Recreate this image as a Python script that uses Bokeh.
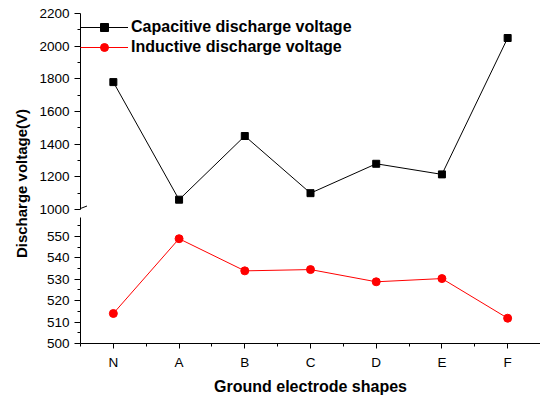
import math
from bokeh.plotting import figure
from bokeh.models import (ColumnDataSource, FixedTicker, Range1d, Legend, LegendItem,
                          Label, Arrow)
from bokeh.layouts import row, column
from bokeh.embed import file_html
from bokeh.resources import INLINE

# ---------------- data ----------------
categories = ["N", "A", "B", "C", "D", "E", "F"]
capacitive = [1780, 1060, 1450, 1100, 1280, 1215, 2050]
inductive = [514.0, 548.9, 533.9, 534.5, 528.8, 530.3, 511.8]
upper_ticks = [1000, 1200, 1400, 1600, 1800, 2000, 2200]
lower_ticks = [500, 510, 520, 530, 540, 550]
series_names = ["Capacitive discharge voltage", "Inductive discharge voltage"]
x_title = "Ground electrode shapes"
y_title = "Discharge voltage(V)"

FONT = "Liberation Sans"
TICK_FS = "13.5px"

xs = list(range(len(categories)))
src = ColumnDataSource(dict(x=xs, cap=capacitive, ind=inductive))

x_range = Range1d(-0.5, len(categories) - 0.5)

# geometry (px)
LAB_W = 34
LEFT = 46
PLOT_W = 506
TOP_H = 217
TOP_MB_T, TOP_MB_B = 13, 8
TOP_FRAME_H = TOP_H - TOP_MB_T - TOP_MB_B
LOW_H = 180
LOW_MB_T, LOW_MB_B = 0, 53
LOW_FRAME_H = LOW_H - LOW_MB_T - LOW_MB_B
LOW_PPU = 2.16
low_top = lower_ticks[0] + LOW_FRAME_H / LOW_PPU


def style_axis(ax, tick_out=6):
    ax.axis_line_color = "black"
    ax.axis_line_width = 1
    ax.major_tick_line_color = "black"
    ax.minor_tick_line_color = "black"
    ax.major_tick_in = 0
    ax.major_tick_out = tick_out
    ax.minor_tick_in = 0
    ax.minor_tick_out = 3
    ax.major_label_text_font = FONT
    ax.major_label_text_font_size = TICK_FS
    ax.major_label_text_color = "black"
    ax.major_label_standoff = 5


def midpoints(t):
    return [(a + b) / 2 for a, b in zip(t[:-1], t[1:])]


# ---------------- top panel ----------------
top = figure(width=PLOT_W, height=TOP_H, x_range=x_range,
             y_range=Range1d(upper_ticks[0], upper_ticks[-1]),
             output_backend="svg", toolbar_location=None, x_axis_location=None,
             min_border_left=LEFT, min_border_right=0,
             min_border_top=TOP_MB_T, min_border_bottom=TOP_MB_B)
top.outline_line_color = None
top.grid.visible = False
top.yaxis.ticker = FixedTicker(ticks=upper_ticks, minor_ticks=midpoints(upper_ticks))
style_axis(top.yaxis[0])

l1 = top.line("x", "cap", source=src, line_color="black", line_width=1)
s1 = top.scatter("x", "cap", source=src, marker="square", size=7,
                 fill_color="black", line_color="black")
# legend proxies for the lower series (values lie below this panel's range -> clipped)
l2p = top.line("x", "ind", source=src, line_color="#ff0000", line_width=1)
s2p = top.scatter("x", "ind", source=src, marker="circle", size=8,
                  fill_color="#ff0000", line_color="#ff0000")

LEG_PAD, ROW_H = 2, 20
legend = Legend(items=[LegendItem(label=series_names[0], renderers=[l1, s1]),
                       LegendItem(label=series_names[1], renderers=[l2p, s2p])],
                location=(0, TOP_FRAME_H - 2 * ROW_H - 2 * LEG_PAD),
                padding=LEG_PAD, margin=0, spacing=0, glyph_width=48,
                glyph_height=ROW_H, label_height=ROW_H, label_standoff=3,
                label_text_font=FONT, label_text_font_size="16px",
                label_text_font_style="bold", label_text_color="black",
                border_line_color=None, background_fill_alpha=0)
top.add_layout(legend)

# ---------------- bottom panel ----------------
low = figure(width=PLOT_W, height=LOW_H, x_range=x_range,
             y_range=Range1d(lower_ticks[0], low_top),
             output_backend="svg", toolbar_location=None,
             min_border_left=LEFT, min_border_right=0,
             min_border_top=LOW_MB_T, min_border_bottom=LOW_MB_B)
low.outline_line_color = None
low.grid.visible = False
low.yaxis.ticker = FixedTicker(ticks=lower_ticks,
                               minor_ticks=midpoints(lower_ticks) + [lower_ticks[-1] + 5])
style_axis(low.yaxis[0])
low.xaxis.ticker = FixedTicker(ticks=xs, minor_ticks=[i - 0.5 for i in range(len(xs) + 1)])
low.xaxis.major_label_overrides = {i: c for i, c in enumerate(categories)}
style_axis(low.xaxis[0], tick_out=5)
low.xaxis.major_label_standoff = 6
low.xaxis.axis_label = x_title
low.xaxis.axis_label_text_font = FONT
low.xaxis.axis_label_text_font_size = "16px"
low.xaxis.axis_label_text_font_style = "bold"
low.xaxis.axis_label_text_color = "black"
low.xaxis.axis_label_standoff = 5

low.line("x", "ind", source=src, line_color="#ff0000", line_width=1)
low.scatter("x", "ind", source=src, marker="circle", size=8,
            fill_color="#ff0000", line_color="#ff0000")

# ---------------- axis break marks (decoration, in px from frame bottom-left) ----------------
x_ppu = (PLOT_W - LEFT) / (x_range.end - x_range.start)
top_ppu = TOP_FRAME_H / (upper_ticks[-1] - upper_ticks[0])


def bx(dx):
    return x_range.start + dx / x_ppu


def by(dy):  # dy: px above the top panel's frame bottom (negative = below)
    return upper_ticks[0] + dy / top_ppu


for cy in (1, -5):
    top.add_layout(Arrow(x_start=bx(-6.5), y_start=by(cy - 2.5),
                         x_end=bx(6.5), y_end=by(cy + 2.5),
                         end=None, line_color="black", line_width=1))
# short continuation of the lower axis line above the lower panel
top.add_layout(Arrow(x_start=bx(0), y_start=by(-4), x_end=bx(0), y_end=by(-TOP_MB_B - 1),
                     end=None, line_color="black", line_width=1))

# ---------------- y-axis title panel ----------------
TOTAL_H = TOP_H + LOW_H
lab = figure(width=LAB_W, height=TOTAL_H, x_range=Range1d(0, LAB_W),
             y_range=Range1d(0, TOTAL_H), output_backend="svg",
             toolbar_location=None, x_axis_location=None, y_axis_location=None,
             min_border=0)
lab.outline_line_color = None
lab.grid.visible = False
lab.add_layout(Label(x=21, y=TOTAL_H - 183, text=y_title, angle=math.pi / 2,
                     text_align="center", text_baseline="middle", text_font=FONT,
                     text_font_size="15px", text_font_style="bold", text_color="black"))

layout = row(lab, column(top, low, spacing=0), spacing=0)

open("out.html", "w").write(file_html(layout, INLINE))
